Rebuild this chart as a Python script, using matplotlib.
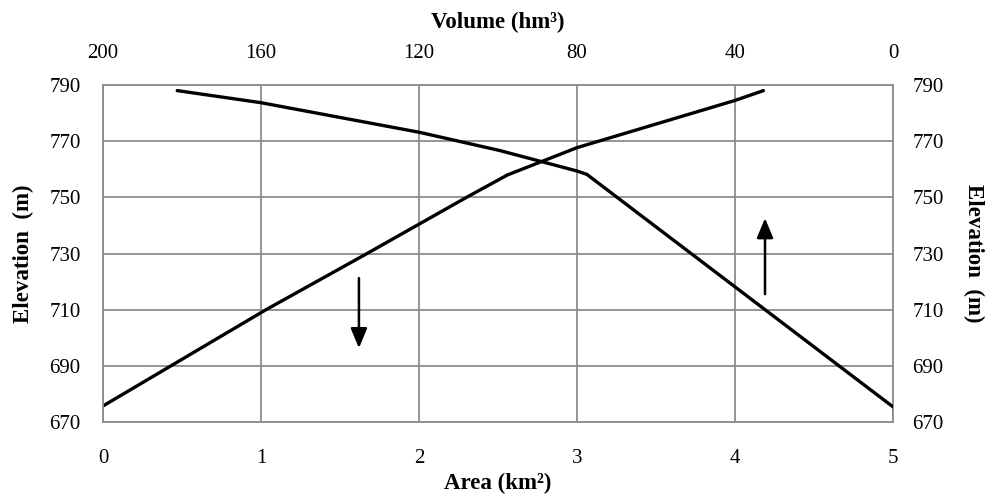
#!/usr/bin/env python3
"""Elevation-area-volume curves of the reservoir."""

import matplotlib

matplotlib.use("Agg")
import matplotlib.pyplot as plt

# area curve (bottom axis)
area_km2 = [0.0, 1.03, 1.67, 2.30, 2.56, 3.0, 4.0, 4.18]
area_elev = [675.8, 710, 730, 750, 758, 767.7, 784.5, 788]

# volume curve (top axis)
volume_hm3 = [181.2, 160, 120, 99.6, 80, 77.5, 0]
volume_elev = [788, 783.7, 773.2, 766.7, 759.4, 758.2, 675.5]

area_ticks = [0, 1, 2, 3, 4, 5]
volume_ticks = [200, 160, 120, 80, 40, 0]
elev_ticks = [670, 690, 710, 730, 750, 770, 790]

# arrows: (x, y_start, y_end) on the area axis
arrows = [(1.62, 722.3, 695.4), (4.19, 714.6, 743.6)]

plt.rcParams["font.family"] = ["Liberation Serif", "DejaVu Serif"]
GRID = "#8c8c8c"
TICK_FS = 15
LABEL_FS = 16.5

fig = plt.figure(figsize=(9.92, 4.97), dpi=100)
ax = fig.add_axes([0.1038, 0.1503, 0.7964, 0.6787])
ax.set_xlim(0, 5)
ax.set_ylim(670, 790)
ax.set_xticks(area_ticks)
ax.set_yticks(elev_ticks)
ax.grid(True, color=GRID, linewidth=1.3)
ax.set_axisbelow(True)
for s in ax.spines.values():
    s.set_color(GRID)
    s.set_linewidth(1.3)
ax.tick_params(axis="x", length=0, pad=19, labelsize=TICK_FS)
ax.tick_params(axis="y", length=0, pad=16, labelsize=TICK_FS)
ax.set_xlabel("Area (km²)", fontsize=LABEL_FS, fontweight="bold", labelpad=4)
ax.set_ylabel("Elevation  (m)", fontsize=LABEL_FS, fontweight="bold", labelpad=11)

ax.plot(area_km2, area_elev, color="black", linewidth=2.4, solid_capstyle="round")
for x, y0, y1 in arrows:
    ax.annotate("", xy=(x, y1), xytext=(x, y0),
                arrowprops=dict(arrowstyle="-|>,head_width=0.5,head_length=1.2",
                                color="black", linewidth=1.8))

top = ax.twiny()
top.set_xlim(200, 0)
top.set_xticks(volume_ticks)
top.tick_params(axis="x", length=0, pad=16, labelsize=TICK_FS)
top.set_xlabel("Volume (hm³)", fontsize=LABEL_FS, fontweight="bold", labelpad=11)
top.plot(volume_hm3, volume_elev, color="black", linewidth=2.4, solid_capstyle="round")
for s in top.spines.values():
    s.set_visible(False)

right = ax.twinx()
right.set_ylim(670, 790)
right.set_yticks(elev_ticks)
right.tick_params(axis="y", length=0, pad=14, labelsize=TICK_FS)
right.set_ylabel("Elevation  (m)", fontsize=LABEL_FS, fontweight="bold",
                 rotation=270, labelpad=29)
for s in right.spines.values():
    s.set_visible(False)

fig.savefig("out.png", dpi=100)
